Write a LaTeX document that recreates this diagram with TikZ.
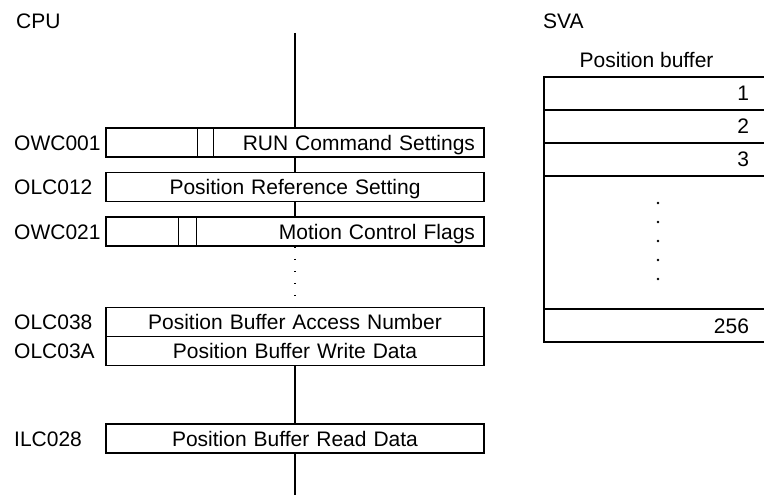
\documentclass[tikz,border=0pt]{standalone}
\usepackage{fontspec}
\setmainfont{Liberation Sans}
\usetikzlibrary{positioning,calc}

\begin{document}
\begin{tikzpicture}[x=1pt, y=-1pt,
      regbox/.style={draw, line width=1.5pt, minimum width=378pt, minimum height=29pt,
        inner xsep=9pt, inner ysep=0pt, text width=360pt, text height=15pt, text depth=0pt,
        font=\fontsize{21}{25}\selectfont},
      reglabel/.style={anchor=west, inner sep=0pt, text height=15pt, text depth=0pt,
        font=\fontsize{21}{25}\selectfont},
      bufrow/.style={minimum width=220pt, minimum height=33pt, inner xsep=15pt, inner ysep=0pt,
        outer sep=0pt, text width=190pt, align=right, text height=15pt, text depth=0pt,
        font=\fontsize{21}{25}\selectfont},
      bus/.style={line width=1.5pt},
      tablerule/.style={line width=1.5pt}
    ]
      \useasboundingbox (0,0) rectangle (764,495);

      % Headings
      \node[reglabel] (cpu) at (16,21.5) {CPU};
      \node[reglabel] (sva) at (543,21.5) {SVA};

      % CPU registers
      \node[regbox, align=right] (runcmd) at (295,142.5) {RUN Command Settings};
      \node[regbox, align=center, below=14pt of runcmd] (posref) {Position Reference Setting};
      \node[regbox, align=right, below=14pt of posref] (motion) {Motion Control Flags\hspace*{5pt}};
      \node[regbox, align=center, below=60pt of motion] (bufnum) {Position Buffer Access Number};
      \node[regbox, align=center, below=-1.5pt of bufnum] (bufwrite) {Position Buffer Write Data};
      \node[regbox, align=center, below=57pt of bufwrite] (bufread) {Position Buffer Read Data};

      % Bit fields
      \draw[bus] ([xshift=92pt]runcmd.north west) -- ([xshift=92pt]runcmd.south west);
      \draw[bus] ([xshift=108pt]runcmd.north west) -- ([xshift=108pt]runcmd.south west);
      \draw[bus] ([xshift=73pt]motion.north west) -- ([xshift=73pt]motion.south west);
      \draw[bus] ([xshift=91pt]motion.north west) -- ([xshift=91pt]motion.south west);

      % Register addresses
      \node[reglabel] (owc001) at (14,0 |- runcmd) {OWC001};
      \node[reglabel] (olc012) at (14,0 |- posref) {OLC012};
      \node[reglabel] (owc021) at (14,0 |- motion) {OWC021};
      \node[reglabel] (olc038) at (14,0 |- bufnum) {OLC038};
      \node[reglabel] (olc03a) at (14,0 |- bufwrite) {OLC03A};
      \node[reglabel] (ilc028) at (14,0 |- bufread) {ILC028};

      % Bus line
      \coordinate (bustop) at (295,33);
      \coordinate (busend) at (295,495);
      \draw[bus] (bustop) -- (runcmd);
      \draw[bus] (runcmd) -- (posref);
      \draw[bus] (posref) -- (motion);
      \draw[bus, dash pattern=on 1.5pt off 10.5pt] (motion) -- (bufnum);
      \draw[bus] (bufwrite) -- (bufread);
      \draw[bus] (bufread) -- (busend);

      % Position buffer
      \node[reglabel, anchor=center] (buftitle) at (646.5,60) {Position buffer};
      \node[bufrow] (buf1) at (654,93.5) {1};
      \node[bufrow, below=0pt of buf1] (buf2) {2};
      \node[bufrow, below=0pt of buf2] (buf3) {3};
      \node[bufrow, minimum height=133pt, below=0pt of buf3] (bufgap) {};
      \node[bufrow, below=0pt of bufgap] (buf256) {256};

      \draw[tablerule] (buf1.north east) -- (buf1.north west) -- (buf256.south west) -- (buf256.south east);
      \foreach \r in {buf1,buf2,buf3,bufgap}
        \draw[tablerule] (\r.south west) -- (\r.south east);
      \foreach \k in {0,...,4}
        \fill ([xshift=4pt, yshift=-27pt-19pt*\k]bufgap.north) circle (1.3pt);
    \end{tikzpicture}
\end{document}
